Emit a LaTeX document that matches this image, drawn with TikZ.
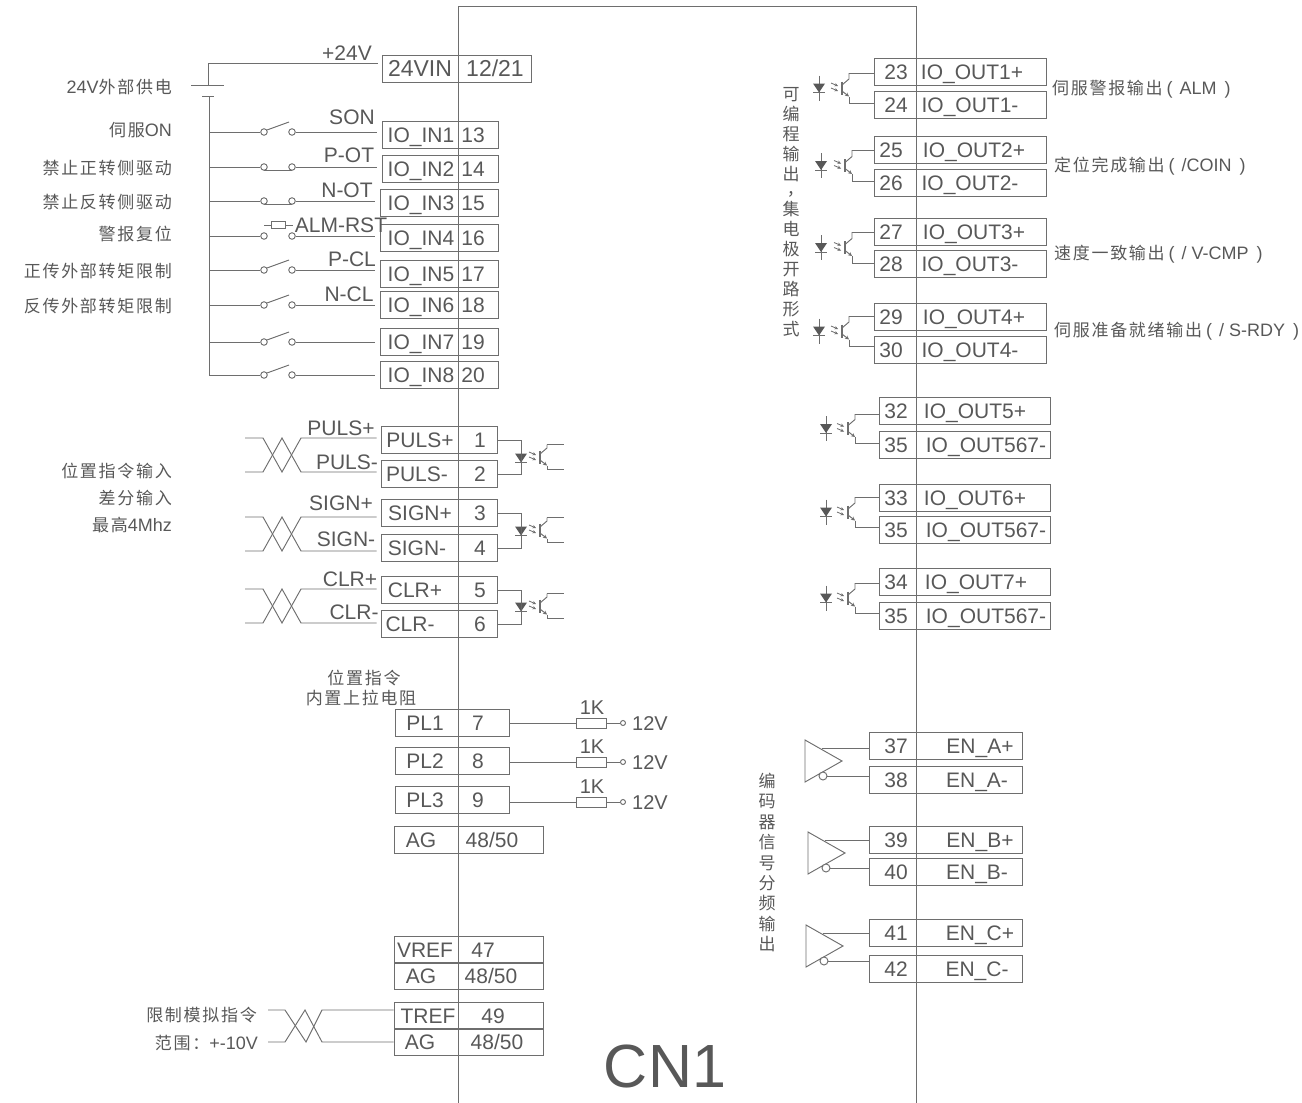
\documentclass[tikz,border=0pt]{standalone}
\usepackage{fontspec}
\setmainfont{Liberation Sans}
\newfontfamily\cjk[LetterSpace=10]{Noto Sans CJK SC}
\newcommand{\lat}[1]{{\normalfont\fontsize{18}{20}\selectfont #1}}
\newcommand{\brk}[1]{\lat{\hspace{4pt}(\hspace{7pt}#1\hspace{8pt})}}
\usetikzlibrary{arrows.meta}

\definecolor{linegray}{HTML}{6E6E6E}
\definecolor{textgray}{HTML}{585858}

\tikzset{
  wire/.style={draw=linegray,line width=.95pt},
  pinbox/.style={wire,inner sep=0pt,minimum height=27pt},
  pinlbl/.style={font=\fontsize{21}{21}\selectfont,text=textgray,inner sep=0pt,text height=15pt,text depth=0pt},
  cnlbl/.style={font=\fontsize{17}{20}\selectfont\cjk,text=textgray,inner sep=0pt,yshift=-1pt},
  term/.style={circle,wire,fill=white,inner sep=0pt,minimum size=6.5pt},
  smallterm/.style={circle,wire,fill=white,inner sep=0pt,minimum size=5pt},
  resbox/.style={wire,fill=white,inner sep=0pt,minimum width=30pt,minimum height=10pt},
  diode/.pic={
    \draw[wire] (0,-12.5) -- (0,12.5);
    \draw[wire] (-6,4.5) -- (6,4.5);
    \fill[textgray] (-6,-4.5) -- (6,-4.5) -- (0,4.5) -- cycle;
    \coordinate (-m) at (0,0);
  },
  phototr/.pic={
    \draw[wire,line width=1.2pt] (0,-6.5) -- (0,6.5);
    \draw[wire] (0,-3) -- (7,-9) -- (7,-#1);
    \draw[wire,-{Stealth[length=4pt,width=4pt]}] (0,3) -- (7,8.5);
    \draw[wire] (7,8.5) -- (7,#1);
    \draw[wire,line width=.8pt,-{Stealth[length=3.5pt,width=3.5pt]}] (-11,-5) -- (-4,-2);
    \draw[wire,line width=.8pt,-{Stealth[length=3.5pt,width=3.5pt]}] (-11,0) -- (-4,3);
    \coordinate (-c) at (7,-#1);
    \coordinate (-e) at (7,#1);
  },
  driver/.pic={
    \draw[wire] (0,0) -- (37,21) -- (0,42) -- cycle;
    \coordinate (-a) at (17,8);
    \node[term,minimum size=8pt] (-b) at (18,36) {};
  }
}

% name, left, right, y, left text, x, right text, x
\newcommand{\pinrow}[8]{
  \node[pinbox,minimum width={(#3-#2)*1pt}] (#1) at ({(#2+#3)/2},#4) {};
  \node[pinlbl] (#1a) at (#6,#4) {#5};
  \node[pinlbl] (#1b) at (#8,#4) {#7};
}

\begin{document}
\begin{tikzpicture}[x=1pt,y=-1pt]
    \useasboundingbox (0,0) rectangle (1302,1103);

    % left pins
    \pinrow{vin}{382}{531}{69}{\fontsize{23}{23}\selectfont 24VIN}{420}{\fontsize{23}{23}\selectfont 12/21}{495}
    \foreach \n/\y/\xl/\pn in {1/135/382/13,2/169/382/14,3/203/380/15,4/238/380/16,5/274/380/17,6/305/380/18,7/342/380/19,8/375/380/20} {
      \pinrow{in\n}{\xl}{498}{\y}{IO\_IN\n}{421}{\pn}{473}
    }
    \foreach \nm/\y/\tx/\xa/\pn in {pa/440/PULS+/420/1,pb/474/PULS-/417/2,sa/513/SIGN+/420/3,sb/548/SIGN-/417/4,ca/590/CLR+/415/5,cb/624/CLR-/410/6} {
      \pinrow{\nm}{381}{497}{\y}{\tx}{\xa}{\pn}{480}
    }
    \foreach \n/\y/\pn in {1/723/7,2/761/8,3/800/9} {
      \pinrow{pl\n}{395}{509}{\y}{PL\n}{425}{\pn}{478}
    }
    \pinrow{ag}{394}{543}{840}{AG}{421}{48/50}{492}
    \pinrow{vref}{394}{543}{950}{VREF}{425}{47}{483}
    \pinrow{aga}{394}{543}{976}{AG}{421}{48/50}{491}
    \pinrow{tref}{394}{543}{1016}{TREF}{428}{49}{493}
    \pinrow{agb}{394}{543}{1042}{AG}{420}{48/50}{497}

    % right pins
    \foreach \n/\y/\pa/\pb/\tx/\xb in {1/71.5/23/896/IO\_OUT1+/972,2/104.5/24/896/IO\_OUT1-/970,3/150/25/891/IO\_OUT2+/974,4/182.5/26/891/IO\_OUT2-/970,5/232/27/891/IO\_OUT3+/974,6/264/28/891/IO\_OUT3-/970,7/316.5/29/891/IO\_OUT4+/974,8/350/30/891/IO\_OUT4-/970} {
      \pinrow{ou\n}{874}{1046}{\y}{\pa}{\pb}{\tx}{\xb}
    }
    \foreach \n/\y/\pa/\tx/\xb in {1/410.5/32/IO\_OUT5+/975,2/445/35/IO\_OUT567-/986,3/498/33/IO\_OUT6+/975,4/529.5/35/IO\_OUT567-/986,5/581.5/34/IO\_OUT7+/976,6/615.5/35/IO\_OUT567-/986} {
      \pinrow{ov\n}{879}{1050}{\y}{\pa}{896}{\tx}{\xb}
    }
    \foreach \n/\y/\pa/\tx/\xb in {1/746/37/EN\_A+/980,2/779.5/38/EN\_A-/977,3/840/39/EN\_B+/980,4/871.5/40/EN\_B-/977,5/932.5/41/EN\_C+/980,6/968.5/42/EN\_C-/977} {
      \pinrow{en\n}{869}{1022}{\y}{\pa}{896}{\tx}{\xb}
    }

    % CN1 frame
    \coordinate (cnla) at (458,1103);
    \coordinate (cnlb) at (458,6);
    \coordinate (cnra) at (916,6);
    \coordinate (cnrb) at (916,1103);
    \draw[wire] (cnla) -- (cnlb) -- (cnra) -- (cnrb);
    \node[pinlbl,font=\fontsize{61}{61}\selectfont,text height=44pt] (cnname) at (665,1065) {CN1};

    % supply and switches
    \coordinate (vtop) at (208,63);
    \coordinate (bata) at (191,85);
    \coordinate (batb) at (224,85);
    \coordinate (batc) at (202,96);
    \coordinate (batd) at (214,96);
    \coordinate (bus) at (209,96);
    \draw[wire,shorten >=4pt] (208,85) -- (vtop) -- (vtop -| vin.west);
    \draw[wire] (bata) -- (batb);
    \draw[wire] (batc) -- (batd);
    \node[pinlbl] (vlbl) at (347,53) {+24V};
    \foreach \n/\y in {1/132,2/167,3/201,4/236,5/270,6/305,7/342,8/375} {
      \node[term] (swl\n) at (264,\y) {};
      \node[term] (swr\n) at (292,\y) {};
      \draw[wire] (bus |- swl\n) -- (swl\n);
      \draw[wire,shorten >=5pt] (swr\n) -- (swr\n -| in\n.west);
    }
    \draw[wire] (bus) -- (bus |- swl8);
    \foreach \n in {1,5,6,7,8}
      \draw[wire] (swl\n) ++(3,-2) -- ++(22,-8);
    \foreach \n in {2,3}
      \draw[wire] (swl\n) ++(0,3) -- ++(28,0);
    \node[resbox,minimum width=14pt,minimum height=7pt] (btn) at (278,225) {};
    \draw[wire] (btn.west) -- ++(-7,0);
    \draw[wire] (btn.east) -- ++(8,0);
    \foreach \tx/\x/\y [count=\i] in {SON/352/117,P-OT/349/155,N-OT/347/190,ALM-RST/341/225,P-CL/352/259,N-CL/349/294}
      \node[pinlbl] (sw\i) at (\x,\y) {\tx};

    % twisted pairs
    \foreach \pa/\pb/\ya/\yb in {pa/pb/438/472,sa/sb/517/551,ca/cb/589/623} {
      \coordinate (twa) at (301,\ya);
      \coordinate (twb) at (301,\yb);
      \draw[wire,shorten >=4pt] (245,\ya) -- (263,\ya) -- (282,\yb) -- (twa) -- (twa -| \pa.west);
      \draw[wire,shorten >=4pt] (245,\yb) -- (263,\yb) -- (282,\ya) -- (twb) -- (twb -| \pb.west);
    }
    \foreach \tx/\x/\y [count=\i] in {PULS+/341/428,PULS-/347/462,SIGN+/341/503,SIGN-/346/539,CLR+/350/579,CLR-/354/612}
      \node[pinlbl] (tw\i) at (\x,\y) {\tx};
    \coordinate (tra) at (322,1010);
    \coordinate (trb) at (322,1042);
    \draw[wire] (268,1010) -- (285,1010) -- (306,1042) -- (tra) -- (tra -| tref.west);
    \draw[wire] (268,1042) -- (285,1042) -- (305,1010) -- (trb) -- (trb -| agb.west);

    % input optocouplers
    \foreach \n/\pa/\pb/\y in {1/pa/pb/458,2/sa/sb/531,3/ca/cb/607} {
      \pic (dia\n) at (521,\y) {diode};
      \pic (opa\n) at (540,\y-1) {phototr=12.5};
      \draw[wire] (\pa.east) -| (dia\n-m) |- (\pb.east);
      \draw[wire] (opa\n-c) -- ++(17,0);
      \draw[wire] (opa\n-e) -- ++(17,0);
    }

    % output optocouplers
    \foreach \n/\pa/\pb/\y/\xd/\xt/\h in {1/ou1/ou2/88/819/842/15,2/ou3/ou4/165.5/821/845/15.5,3/ou5/ou6/247.5/821/845/15.5,4/ou7/ou8/331/819/842/15,5/ov1/ov2/428.5/826/848/14.5,6/ov3/ov4/512/826/848/15,7/ov5/ov6/598/826/848/15} {
      \pic (dib\n) at (\xd,\y) {diode};
      \pic (opb\n) at (\xt,\y) {phototr=\h};
      \draw[wire] (opb\n-c) -- (opb\n-c -| \pa.west);
      \draw[wire] (opb\n-e) -- (opb\n-e -| \pb.west);
    }

    % encoder drivers
    \foreach \n/\pa/\pb/\x/\y in {1/en1/en2/805/740,2/en3/en4/808/832,3/en5/en6/806/925} {
      \pic (drv\n) at (\x,\y) {driver};
      \draw[wire] (drv\n-a) -- (drv\n-a -| \pa.west);
      \draw[wire] (drv\n-b) -- (drv\n-b -| \pb.west);
    }

    % pull-up resistors
    \foreach \n/\y in {1/723,2/762,3/802} {
      \node[resbox] (res\n) at (591,\y) {};
      \node[smallterm] (tm\n) at (623,\y) {};
      \draw[wire] (res\n -| pl\n.east) -- (res\n);
      \draw[wire] (res\n) -- (tm\n);
      \node[pinlbl,font=\fontsize{20}{20}\selectfont] (rk\n) at (592,\y-16) {1K};
      \node[pinlbl,font=\fontsize{20}{20}\selectfont] (rv\n) at (650,\y) {12V};
    }

    % chinese labels, left
    \node[cnlbl,anchor=east] (la1) at (172,86) {\lat{24V}外部供电};
    \node[cnlbl,anchor=east] (la2) at (172,129) {伺服\lat{ON}};
    \node[cnlbl,anchor=east] (la3) at (172,167) {禁止正转侧驱动};
    \node[cnlbl,anchor=east] (la4) at (172,201) {禁止反转侧驱动};
    \node[cnlbl,anchor=east] (la5) at (172,233) {警报复位};
    \node[cnlbl,anchor=east] (la6) at (172,270) {正传外部转矩限制};
    \node[cnlbl,anchor=east] (la7) at (172,305) {反传外部转矩限制};
    \node[cnlbl,anchor=east] (lb1) at (172,470) {位置指令输入};
    \node[cnlbl,anchor=east] (lb2) at (172,497) {差分输入};
    \node[cnlbl,anchor=east] (lb3) at (172,524) {最高\lat{4Mhz}};
    \node[cnlbl] (lc1) at (364,677) {位置指令};
    \node[cnlbl] (lc2) at (361,697) {内置上拉电阻};
    \node[cnlbl,anchor=east] (ld1) at (257,1014) {限制模拟指令};
    \node[cnlbl,anchor=east] (ld2) at (258,1042) {范围：\lat{+-10V}};

    % chinese labels, right
    \node[cnlbl,anchor=west] (le1) at (1052,88) {伺服警报输出\brk{ALM}};
    \node[cnlbl,anchor=west] (le2) at (1054,165) {定位完成输出\brk{/COIN}};
    \node[cnlbl,anchor=west] (le3) at (1054,253) {速度一致输出\brk{/ V-CMP}};
    \node[cnlbl,anchor=west] (le4) at (1054,330) {伺服准备就绪输出\brk{/ S-RDY}};
    \node[cnlbl,anchor=north,align=center] (vt1) at (791,86) {可\\编\\程\\输\\出\\[-5pt]\hspace*{.5em}，\\集\\电\\极\\开\\路\\形\\式};
    \node[cnlbl,anchor=north,align=center,font=\fontsize{17}{20.4}\selectfont\cjk] (vt2) at (767,772) {编\\码\\器\\信\\号\\分\\频\\输\\出};
\end{tikzpicture}
\end{document}
